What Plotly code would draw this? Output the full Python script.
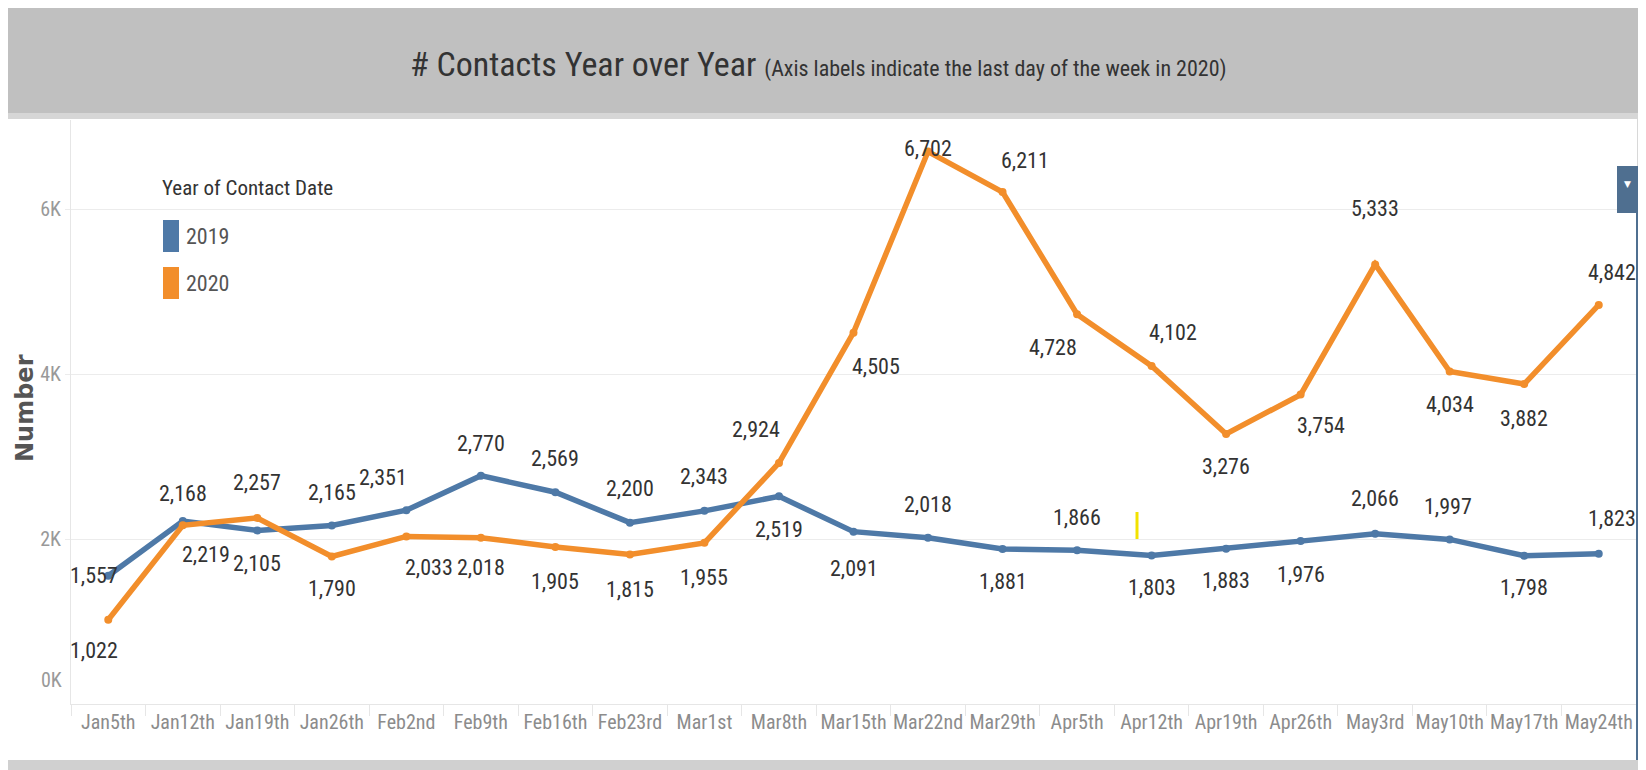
import plotly.graph_objects as go

# ---------------- data ----------------
weeks = ["Jan5th", "Jan12th", "Jan19th", "Jan26th", "Feb2nd", "Feb9th", "Feb16th", "Feb23rd",
         "Mar1st", "Mar8th", "Mar15th", "Mar22nd", "Mar29th", "Apr5th", "Apr12th", "Apr19th",
         "Apr26th", "May3rd", "May10th", "May17th", "May24th"]
contacts_2019 = [1557, 2219, 2105, 2165, 2351, 2770, 2569, 2200, 2343, 2519, 2091, 2018,
                 1881, 1866, 1803, 1883, 1976, 2066, 1997, 1798, 1823]
contacts_2020 = [1022, 2168, 2257, 1790, 2033, 2018, 1905, 1815, 1955, 2924, 4505, 6702,
                 6211, 4728, 4102, 3276, 3754, 5333, 4034, 3882, 4842]
y_tick_vals = [2000, 4000, 6000]
y_tick_text = ["2K", "4K", "6K"]

# label offsets in screen pixels (dx right, dy down) – style only
off_2019 = [(-14, 0), (23, 33), (0, 33), (0, -33), (-23, -33), (0, -32), (0, -34), (0, -34),
            (0, -34), (0, 33), (0, 37), (0, -33), (0, 33), (0, -33), (0, 32), (0, 32),
            (0, 33), (0, -35), (-2, -33), (0, 32), (13, -35)]
off_2020 = [(-14, 31), (0, -32), (0, -35), (0, 32), (23, 31), (0, 30), (0, 35), (0, 35),
            (0, 35), (-23, -33), (22, 34), (0, -3), (22, -32), (-24, 33), (21, -33), (0, 33),
            (20, 31), (0, -56), (0, 33), (0, 34), (13, -32)]

BLUE = "#4e79a7"
ORANGE = "#f28e2b"
FONT = "Roboto Condensed, Liberation Sans Narrow, sans-serif"

# page has an 8px body margin; positions below are page pixels
OFF = 8
PL, PR, PT, PB = 71, 1636, 120, 704          # plot area on the page
W, H = 1646 - OFF, 770 - OFF                  # figure size
L, R, T, B = PL - OFF, PR - OFF, PT - OFF, PB - OFF


def pxx(x):
    return (x - PL) / (PR - PL)


def pxy(y):
    return (PB - y) / (PB - PT)


fig = go.Figure()
fig.add_trace(go.Scatter(x=weeks, y=contacts_2019, mode="lines+markers", name="2019",
                         line=dict(color=BLUE, width=5.5), marker=dict(color=BLUE, size=8),
                         hoverinfo="x+y"))
fig.add_trace(go.Scatter(x=weeks, y=contacts_2020, mode="lines+markers", name="2020",
                         line=dict(color=ORANGE, width=5.5), marker=dict(color=ORANGE, size=8),
                         hoverinfo="x+y"))

annotations = []
for vals, offs in ((contacts_2019, off_2019), (contacts_2020, off_2020)):
    for wk, v, (dx, dy) in zip(weeks, vals, offs):
        annotations.append(dict(x=wk, y=v, xref="x", yref="y", text=f"{v:,}", showarrow=False,
                                xshift=dx, yshift=-dy,
                                font=dict(family=FONT, size=22, color="#333333")))

# "0K" tick label (Tableau shifts it up into the pane)
annotations.append(dict(x=pxx(64), y=pxy(680), xref="paper", yref="paper", text="0K",
                        showarrow=False, xanchor="right", yanchor="middle",
                        font=dict(family=FONT, size=20, color="#999999")))

# y axis title
annotations.append(dict(x=pxx(25), y=pxy(408), xref="paper", yref="paper", text="<b>Number</b>",
                        showarrow=False, xanchor="center", yanchor="middle", textangle=-90,
                        font=dict(family="DejaVu Sans", size=24, color="#555555")))

# title
annotations.append(dict(x=pxx(818), y=pxy(64), xref="paper", yref="paper",
                        text="# Contacts Year over Year <span style='font-size:22px'>(Axis labels indicate the last day of the week in 2020)</span>",
                        showarrow=False, xanchor="center", yanchor="middle",
                        font=dict(family=FONT, size=34, color="#333333")))

# legend (drawn manually)
annotations.append(dict(x=pxx(160), y=pxy(188), xref="paper", yref="paper",
                        text="Year of Contact Date", showarrow=False, xanchor="left",
                        yanchor="middle", font=dict(family=FONT, size=21, color="#333333")))
for label, yc in (("2019", 236), ("2020", 283)):
    annotations.append(dict(x=pxx(184), y=pxy(yc), xref="paper", yref="paper", text=label,
                            showarrow=False, xanchor="left", yanchor="middle",
                            font=dict(family=FONT, size=22, color="#555555")))

# dropdown arrow on button
annotations.append(dict(x=pxx(1627.5), y=pxy(184), xref="paper", yref="paper", text="▼",
                        showarrow=False, xanchor="center", yanchor="middle",
                        font=dict(family="DejaVu Sans", size=9, color="#ffffff")))

shapes = []
# title bar
shapes.append(dict(type="rect", xref="paper", yref="paper", x0=pxx(6), x1=pxx(1646), y0=pxy(0),
                   y1=pxy(113), fillcolor="#c0c0c0", line=dict(width=0), layer="below"))
shapes.append(dict(type="rect", xref="paper", yref="paper", x0=pxx(6), x1=pxx(1646), y0=pxy(113),
                   y1=pxy(119), fillcolor="#d6d6d6", line=dict(width=0), layer="below"))
# bottom strip
shapes.append(dict(type="rect", xref="paper", yref="paper", x0=pxx(6), x1=pxx(1646), y0=pxy(760),
                   y1=pxy(770), fillcolor="#d0d0d0", line=dict(width=0), layer="below"))
# legend swatches
shapes.append(dict(type="rect", xref="paper", yref="paper", x0=pxx(163), x1=pxx(179), y0=pxy(220),
                   y1=pxy(252), fillcolor=BLUE, line=dict(width=0)))
shapes.append(dict(type="rect", xref="paper", yref="paper", x0=pxx(163), x1=pxx(179), y0=pxy(267),
                   y1=pxy(299), fillcolor=ORANGE, line=dict(width=0)))
# right border
shapes.append(dict(type="rect", xref="paper", yref="paper", x0=pxx(1637), x1=pxx(1642), y0=pxy(119),
                   y1=pxy(166), fillcolor="#d8d8d8", line=dict(width=0)))
shapes.append(dict(type="rect", xref="paper", yref="paper", x0=pxx(1636), x1=pxx(1638.5), y0=pxy(166),
                   y1=pxy(760), fillcolor="#4f6f90", line=dict(width=0)))
# dropdown button
shapes.append(dict(type="rect", xref="paper", yref="paper", x0=pxx(1617), x1=pxx(1638.5), y0=pxy(166),
                   y1=pxy(213), fillcolor="#4f6f90", line=dict(width=0)))
# yellow cursor mark
shapes.append(dict(type="line", xref="paper", yref="paper", x0=pxx(1137), x1=pxx(1137), y0=pxy(512),
                   y1=pxy(539), line=dict(color="#f2e200", width=3)))

fig.update_layout(
    width=W, height=H,
    margin=dict(l=L, r=W - R, t=T, b=H - B, autoexpand=False),
    paper_bgcolor="white", plot_bgcolor="white",
    showlegend=False,
    annotations=annotations,
    shapes=shapes,
    font=dict(family=FONT),
)
fig.update_xaxes(type="category", range=[-0.5, len(weeks) - 0.5], tickson="boundaries",
                 ticks="outside", ticklen=11, tickcolor="#e6e6e6", tickwidth=1, tickangle=0,
                 automargin=False,
                 showgrid=False, showline=True, linecolor="#e6e6e6", linewidth=1,
                 tickfont=dict(family=FONT, size=20, color="#8c8c8c"), zeroline=False)
fig.update_yaxes(range=[0, 7085], tickvals=y_tick_vals, ticktext=y_tick_text, automargin=False,
                 showgrid=True, gridcolor="#ececec", gridwidth=1,
                 ticks="outside", ticklen=5, tickcolor="#ececec",
                 showline=True, linecolor="#e6e6e6", linewidth=1, zeroline=False,
                 tickfont=dict(family=FONT, size=20, color="#999999"))

fig.write_html("out.html")
